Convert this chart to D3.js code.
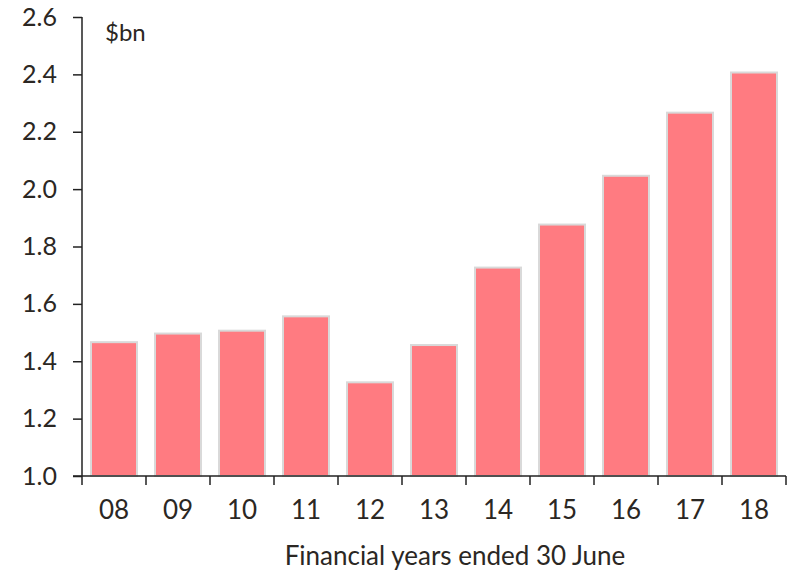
<!DOCTYPE html>
<html>
<head>
<meta charset="utf-8">
<script src="https://cdn.jsdelivr.net/npm/d3@7"></script>
<style>
  body { margin: 0; background: #fff; }
  text { font-family: "Lato", "Open Sans", sans-serif; fill: #2b2723; }
</style>
</head>
<body>
<div id="chart"></div>
<script>
var years = ["08", "09", "10", "11", "12", "13", "14", "15", "16", "17", "18"],
    values = [1.47, 1.50, 1.51, 1.56, 1.33, 1.46, 1.73, 1.88, 2.05, 2.27, 2.41],
    yTicks = [1.0, 1.2, 1.4, 1.6, 1.8, 2.0, 2.2, 2.4, 2.6];

var width = 790,
    height = 571,
    margin = {top: 17, right: 4, bottom: 95, left: 82};

var svg = d3.select("#chart").append("svg")
    .attr("width", width)
    .attr("height", height);

var x = d3.scaleBand()
    .domain(years)
    .range([margin.left, width - margin.right])
    .paddingInner(0.25)
    .paddingOuter(0.125);

var y = d3.scaleLinear()
    .domain([1.0, 2.6])
    .range([height - margin.bottom, margin.top]);

// bars
svg.selectAll(".bar").data(values).enter().append("rect")
    .attr("class", "bar")
    .attr("x", function(d, i) { return x(years[i]) + 1; })
    .attr("y", function(d) { return y(d) + 1; })
    .attr("width", x.bandwidth() - 2)
    .attr("height", function(d) { return y(1.0) - y(d) - 1; })
    .style("fill", "#ff7b81")
    .style("stroke", "#d9d9d9")
    .style("stroke-width", 2);

// y axis
var yAxis = d3.axisLeft(y)
    .tickValues(yTicks)
    .tickSize(9)
    .tickPadding(16)
    .tickFormat(d3.format(".1f"));

var gy = svg.append("g")
    .attr("transform", "translate(" + margin.left + ",0)")
    .call(yAxis);
gy.select(".domain").attr("d", "M0," + y(2.6) + "V" + y(1.0)).style("stroke", "#222").style("stroke-width", 1.5);
gy.selectAll(".tick line").style("stroke", "#222").style("stroke-width", 1.5);
gy.selectAll("text").style("font-size", "25px").style("fill", "#2b2723");

// x axis, ticks between the categories
var xb = svg.append("g");
xb.append("line")
    .attr("x1", margin.left - 9).attr("x2", width - margin.right)
    .attr("y1", y(1.0)).attr("y2", y(1.0))
    .style("stroke", "#222").style("stroke-width", 1.5);

var edges = years.map(function(d) { return x(d) - x.step() * x.paddingInner() / 2; });
edges.push(width - margin.right);
xb.selectAll(".xtick").data(edges).enter().append("line")
    .attr("x1", function(d) { return d; }).attr("x2", function(d) { return d; })
    .attr("y1", y(1.0)).attr("y2", y(1.0) + 9)
    .style("stroke", "#222").style("stroke-width", 1.5);

xb.selectAll(".xlabel").data(years).enter().append("text")
    .attr("x", function(d) { return x(d) + x.bandwidth() / 2; })
    .attr("y", y(1.0) + 43)
    .attr("text-anchor", "middle")
    .style("font-size", "26px")
    .text(function(d) { return d; });

// unit label
svg.append("text")
    .attr("x", 105).attr("y", 41)
    .style("font-size", "24px")
    .text("$bn");

// axis title
svg.append("text")
    .attr("x", 455).attr("y", 565)
    .attr("text-anchor", "middle")
    .style("font-size", "26px")
    .text("Financial years ended 30 June");
</script>
</body>
</html>
